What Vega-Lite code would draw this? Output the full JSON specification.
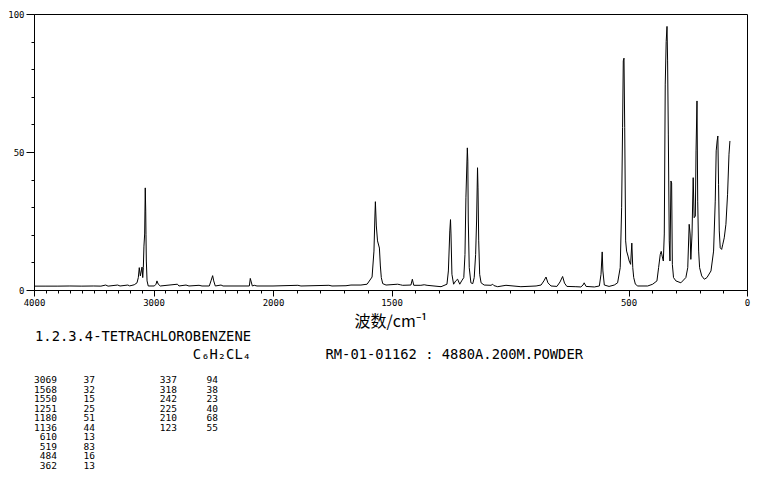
{
  "$schema": "https://vega.github.io/schema/vega-lite/v6.json",
  "padding": {"left": 7, "top": 9, "right": 0, "bottom": 0},
  "background": "white",
  "spacing": 0,
  "config": {
    "font": "DejaVu Sans Mono",
    "axis": {"grid": false, "domainColor": "black", "tickColor": "black", "labelColor": "black", "labelFont": "DejaVu Sans Mono", "labelFontSize": 9, "domainWidth": 1, "tickWidth": 1, "labelFlush": false, "labelOverlap": false}
  },
  "vconcat": [
    {
      "width": 713,
      "height": 276,
      "view": {"stroke": "black", "strokeWidth": 1},
      "data": {"values": [
        {"wn":4000,"i":1.4},{"wn":3900,"i":1.4},{"wn":3800,"i":1.4},{"wn":3700,"i":1.45},{"wn":3600,"i":1.4},{"wn":3500,"i":1.45},{"wn":3440,"i":1.4},{"wn":3400,"i":1.8},{"wn":3380,"i":1.4},{"wn":3300,"i":1.8},{"wn":3280,"i":1.45},{"wn":3215,"i":1.8},{"wn":3200,"i":1.5},{"wn":3188,"i":1.6},{"wn":3161,"i":1.9},{"wn":3138,"i":2.6},{"wn":3127,"i":4.5},{"wn":3119,"i":8.1},{"wn":3110,"i":5.1},{"wn":3102,"i":6.9},{"wn":3096,"i":8.3},{"wn":3090,"i":4.5},{"wn":3085,"i":8.1},{"wn":3080,"i":15.9},{"wn":3074,"i":20.3},{"wn":3069,"i":37},{"wn":3065,"i":28.6},{"wn":3063,"i":20.2},{"wn":3060,"i":10.5},{"wn":3054,"i":3.3},{"wn":3044,"i":1.45},{"wn":2993,"i":1.45},{"wn":2979,"i":2.1},{"wn":2971,"i":3.3},{"wn":2960,"i":2.1},{"wn":2943,"i":1.45},{"wn":2800,"i":2.1},{"wn":2787,"i":1.45},{"wn":2728,"i":1.8},{"wn":2703,"i":1.45},{"wn":2619,"i":1.7},{"wn":2594,"i":1.45},{"wn":2533,"i":1.45},{"wn":2519,"i":3.3},{"wn":2505,"i":5.2},{"wn":2496,"i":3.3},{"wn":2483,"i":1.45},{"wn":2435,"i":1.8},{"wn":2418,"i":1.45},{"wn":2198,"i":1.45},{"wn":2190,"i":4.2},{"wn":2182,"i":2.9},{"wn":2173,"i":1.45},{"wn":2157,"i":1.7},{"wn":2134,"i":1.45},{"wn":2000,"i":1.45},{"wn":1895,"i":1.7},{"wn":1882,"i":1.45},{"wn":1764,"i":1.7},{"wn":1751,"i":1.45},{"wn":1692,"i":1.55},{"wn":1671,"i":1.8},{"wn":1629,"i":1.8},{"wn":1603,"i":2.1},{"wn":1582,"i":4.7},{"wn":1574,"i":14.1},{"wn":1570,"i":26.8},{"wn":1568,"i":32},{"wn":1564,"i":23.2},{"wn":1559,"i":17.8},{"wn":1551,"i":15.2},{"wn":1547,"i":8.7},{"wn":1543,"i":4.5},{"wn":1537,"i":2.3},{"wn":1523,"i":1.8},{"wn":1474,"i":2.1},{"wn":1463,"i":1.9},{"wn":1453,"i":1.7},{"wn":1418,"i":1.8},{"wn":1412,"i":3.9},{"wn":1406,"i":1.7},{"wn":1376,"i":1.7},{"wn":1362,"i":1.9},{"wn":1350,"i":1.7},{"wn":1291,"i":1.2},{"wn":1266,"i":2.1},{"wn":1260,"i":6.9},{"wn":1254,"i":21.4},{"wn":1251,"i":25.5},{"wn":1249,"i":20.3},{"wn":1245,"i":5.7},{"wn":1238,"i":2.1},{"wn":1229,"i":3.3},{"wn":1221,"i":3.9},{"wn":1212,"i":2.1},{"wn":1204,"i":3.3},{"wn":1195,"i":4.5},{"wn":1190,"i":12.9},{"wn":1186,"i":33.4},{"wn":1180,"i":51.5},{"wn":1178,"i":46.7},{"wn":1176,"i":25},{"wn":1172,"i":8.1},{"wn":1165,"i":2.6},{"wn":1157,"i":2.3},{"wn":1151,"i":4.5},{"wn":1145,"i":12.9},{"wn":1141,"i":25},{"wn":1137,"i":44.3},{"wn":1135,"i":37},{"wn":1132,"i":17.8},{"wn":1128,"i":5.7},{"wn":1122,"i":2.6},{"wn":1109,"i":1.8},{"wn":1080,"i":1.7},{"wn":1073,"i":2.1},{"wn":1068,"i":1.6},{"wn":1052,"i":1.2},{"wn":1017,"i":1.7},{"wn":954,"i":1.2},{"wn":890,"i":1.45},{"wn":869,"i":1.8},{"wn":857,"i":3.3},{"wn":848,"i":4.7},{"wn":840,"i":2.6},{"wn":827,"i":1.45},{"wn":802,"i":1.3},{"wn":789,"i":2.9},{"wn":778,"i":4.9},{"wn":770,"i":2.5},{"wn":760,"i":1.3},{"wn":722,"i":1.2},{"wn":701,"i":1.1},{"wn":692,"i":1.8},{"wn":687,"i":2.6},{"wn":679,"i":1.3},{"wn":644,"i":1.1},{"wn":623,"i":1.45},{"wn":616,"i":5.7},{"wn":611,"i":13.8},{"wn":608,"i":6.9},{"wn":602,"i":1.8},{"wn":582,"i":1.3},{"wn":560,"i":1.8},{"wn":546,"i":2.6},{"wn":535,"i":8.1},{"wn":529,"i":29.8},{"wn":525,"i":58.8},{"wn":522,"i":83},{"wn":519,"i":84},{"wn":516,"i":58.8},{"wn":512,"i":17.8},{"wn":508,"i":14.1},{"wn":502,"i":12.3},{"wn":497,"i":10.5},{"wn":491,"i":9.3},{"wn":486,"i":17},{"wn":482,"i":8.1},{"wn":478,"i":4.5},{"wn":471,"i":2.1},{"wn":461,"i":1.45},{"wn":419,"i":1.45},{"wn":398,"i":2.1},{"wn":380,"i":3.3},{"wn":373,"i":8.1},{"wn":366,"i":12.9},{"wn":362,"i":14},{"wn":358,"i":12.3},{"wn":353,"i":10.5},{"wn":349,"i":20.3},{"wn":345,"i":74.6},{"wn":341,"i":90},{"wn":337.5,"i":95.5},{"wn":335,"i":83},{"wn":332,"i":56.5},{"wn":328,"i":17.8},{"wn":325,"i":10.5},{"wn":321,"i":39.5},{"wn":318,"i":38.8},{"wn":315,"i":9.3},{"wn":310,"i":4.5},{"wn":300,"i":3.3},{"wn":279,"i":2.6},{"wn":258,"i":4.5},{"wn":250,"i":8.1},{"wn":244,"i":23.8},{"wn":240,"i":20.3},{"wn":237,"i":11.1},{"wn":232,"i":20.3},{"wn":227,"i":40.7},{"wn":223,"i":26.2},{"wn":218,"i":26.8},{"wn":215,"i":50.4},{"wn":211,"i":68.5},{"wn":208,"i":32.2},{"wn":204,"i":14.1},{"wn":200,"i":8.1},{"wn":191,"i":5.1},{"wn":180,"i":3.9},{"wn":169,"i":4.5},{"wn":152,"i":6.9},{"wn":141,"i":14.1},{"wn":134,"i":32.2},{"wn":130,"i":50.4},{"wn":126,"i":54},{"wn":123,"i":55.8},{"wn":120,"i":38.3},{"wn":117,"i":21.4},{"wn":113,"i":15.3},{"wn":107,"i":14.7},{"wn":102,"i":16.6},{"wn":96,"i":18.9},{"wn":89,"i":23.8},{"wn":82,"i":34.7},{"wn":76,"i":49.2},{"wn":72,"i":54}
      ]},
      "mark": {"type": "line", "color": "black", "strokeWidth": 1},
      "encoding": {
        "x": {
          "field": "wn", "type": "quantitative",
          "scale": {"domain": [4000, 2000, 0], "range": [0, 239, 713], "nice": false, "zero": false},
          "axis": {
            "values": [4000,3900,3800,3700,3600,3500,3400,3300,3200,3100,3000,2900,2800,2700,2600,2500,2400,2300,2200,2100,2000,1900,1800,1700,1600,1500,1400,1300,1200,1100,1000,900,800,700,600,500,400,300,200,100,0],
            "format": "d",
            "labelExpr": "indexof([4000,3000,2000,1500,500,0], datum.value) >= 0 ? datum.label : ''",
            "tickSize": {"condition": {"test": "indexof([4000,3000,2000,1500,500,0], datum.value) >= 0", "value": 6}, "value": 3},
            "labelPadding": 2,
            "title": "波数/cm⁻¹",
            "titleFont": "Noto Sans CJK SC",
            "titleFontSize": 16,
            "titleFontWeight": "normal",
            "titleColor": "black",
            "titlePadding": 6
          }
        },
        "y": {
          "field": "i", "type": "quantitative",
          "scale": {"domain": [0, 100], "nice": false, "zero": true},
          "axis": {
            "values": [0,10,20,30,40,50,60,70,80,90,100],
            "labelExpr": "datum.value % 50 == 0 ? datum.label : ''",
            "tickSize": {"condition": {"test": "datum.value % 50 == 0", "value": 8}, "value": 3},
            "labelPadding": 2,
            "title": null
          }
        }
      }
    },
    {
      "width": 713,
      "height": 143,
      "view": {"stroke": null},
      "resolve": {"scale": {"x": "independent", "y": "independent"}},
      "layer": [
        {
          "data": {"values": [
            {"line": 1, "slot": "A", "label": "1.2.3.4-TETRACHLOROBENZENE"},
            {"line": 2, "slot": "A", "label": "C₆H₂CL₄"},
            {"line": 2, "slot": "B", "label": "RM-01-01162 : 4880A.200M.POWDER"}
          ]},
          "mark": {"type": "text", "align": "right", "baseline": "middle", "font": "DejaVu Sans Mono", "fontSize": 13.8, "color": "black"},
          "encoding": {
            "x": {"field": "slot", "type": "nominal", "scale": {"type": "point", "domain": ["A", "B"], "range": [217, 549], "padding": 0}, "axis": null},
            "y": {"field": "line", "type": "ordinal", "scale": {"type": "point", "domain": [1, 2], "range": [5, 23], "padding": 0}, "axis": null},
            "text": {"field": "label"}
          }
        },
        {
          "data": {"name": "peaks", "values": [
            {"row":1,"grp":1,"wn":3069,"int":37},{"row":2,"grp":1,"wn":1568,"int":32},{"row":3,"grp":1,"wn":1550,"int":15},{"row":4,"grp":1,"wn":1251,"int":25},{"row":5,"grp":1,"wn":1180,"int":51},{"row":6,"grp":1,"wn":1136,"int":44},{"row":7,"grp":1,"wn":610,"int":13},{"row":8,"grp":1,"wn":519,"int":83},{"row":9,"grp":1,"wn":484,"int":16},{"row":10,"grp":1,"wn":362,"int":13},
            {"row":1,"grp":2,"wn":337,"int":94},{"row":2,"grp":2,"wn":318,"int":38},{"row":3,"grp":2,"wn":242,"int":23},{"row":4,"grp":2,"wn":225,"int":40},{"row":5,"grp":2,"wn":210,"int":68},{"row":6,"grp":2,"wn":123,"int":55}
          ]},
          "mark": {"type": "text", "align": "right", "baseline": "middle", "font": "DejaVu Sans Mono", "fontSize": 9.5, "color": "black"},
          "encoding": {
            "x": {"field": "grp", "type": "ordinal", "scale": {"type": "point", "domain": [1, 2], "range": [23, 143], "padding": 0}, "axis": null},
            "y": {"field": "row", "type": "ordinal", "scale": {"type": "point", "domain": [1,2,3,4,5,6,7,8,9,10], "range": [48, 134], "padding": 0}, "axis": null},
            "text": {"field": "wn"}
          }
        },
        {
          "data": {"name": "peaks"},
          "mark": {"type": "text", "align": "right", "baseline": "middle", "font": "DejaVu Sans Mono", "fontSize": 9.5, "color": "black"},
          "encoding": {
            "x": {"field": "grp", "type": "ordinal", "scale": {"type": "point", "domain": [1, 2], "range": [61, 184], "padding": 0}, "axis": null},
            "y": {"field": "row", "type": "ordinal", "scale": {"type": "point", "domain": [1,2,3,4,5,6,7,8,9,10], "range": [48, 134], "padding": 0}, "axis": null},
            "text": {"field": "int"}
          }
        }
      ]
    }
  ]
}
